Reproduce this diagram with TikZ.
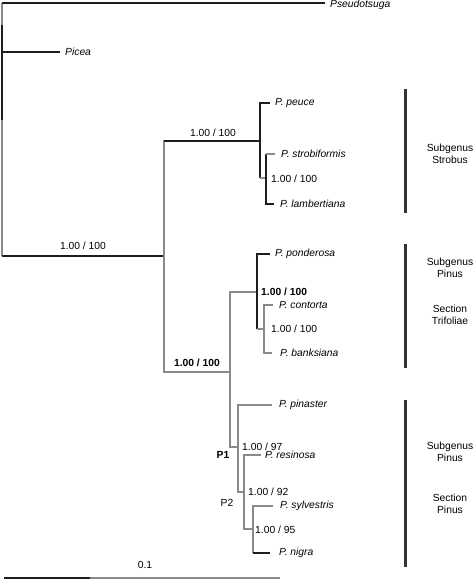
\documentclass[tikz,border=0pt]{standalone}
\usepackage{fontspec}
\setmainfont{Liberation Sans}
\usetikzlibrary{positioning}
\definecolor{treeDark}{HTML}{1E1E1E}
\definecolor{treeGray}{HTML}{8A8A8A}
\definecolor{barDark}{HTML}{333333}

\begin{document}
\begin{tikzpicture}[
  x=1pt, y=-1pt,
  every node/.style={font=\fontsize{10.3}{11.5}\selectfont, inner sep=0pt},
  taxon/.style={anchor=west, font=\fontsize{10.3}{11.5}\selectfont\itshape},
  support/.style={anchor=west},
  supportbold/.style={font=\fontsize{10.3}{11.5}\selectfont\bfseries},
  clade/.style={align=center},
  dark/.style={draw=treeDark, line width=1.2pt},
  pale/.style={draw=treeGray, line width=1.2pt},
  cladebar/.style={draw=barDark, line width=3pt}
]

\useasboundingbox (0,0) rectangle (474,581);

\coordinate (root)   at (2,256);
\coordinate (out)    at (2,3);
\coordinate (pine)   at (164,256);
\coordinate (strob)  at (260,141);
\coordinate (strobA) at (266,178);
\coordinate (pinus)  at (230,372);
\coordinate (trif)   at (257,292);
\coordinate (trifA)  at (264,329);
\coordinate (p1)     at (238,447);
\coordinate (p2)     at (244,492);
\coordinate (p3)     at (253,529);

\node[taxon] (pseudo)  at (330,5)   {Pseudotsuga};
\node[taxon] (picea)   at (65,52)   {Picea};
\node[taxon] (peuce)   at (275,103) {P. peuce};
\node[taxon] (strobi)  at (281,154) {P. strobiformis};
\node[taxon] (lamb)    at (280,204) {P. lambertiana};
\node[taxon] (ponder)  at (275,254) {P. ponderosa};
\node[taxon] (contor)  at (279,305) {P. contorta};
\node[taxon] (banks)   at (280,353) {P. banksiana};
\node[taxon] (pinast)  at (279,405) {P. pinaster};
\node[taxon] (resin)   at (265,455) {P. resinosa};
\node[taxon] (sylv)    at (280,506) {P. sylvestris};
\node[taxon] (nigra)   at (279,553) {P. nigra};

\draw[pale] (out) -- (root);
\draw[dark] (2,25) -- (2,120);
\draw[dark] (out) -- ([xshift=-5pt]pseudo.west |- out);
\draw[dark] (out |- picea) -- ([xshift=-5pt]picea.west);
\draw[dark] (root) -- (pine);

\draw[pale] (pine) |- (strob);
\draw[dark] (pine |- strob) -- (strob);
\draw[dark] (strob) |- ([xshift=-5pt]peuce.west);
\draw[dark] (strob) -- (strob |- strobA);
\draw[pale] (strob |- strobA) -- (strobA);
\draw[dark] (strobA) |- ([xshift=-6pt]lamb.west);
\draw[dark] (strobA) -- (strobA |- strobi);
\draw[pale] (strobA |- strobi) -- ([xshift=-6pt]strobi.west);

\draw[pale] (pine) |- (pinus);
\draw[pale] (pinus) |- (trif);
\draw[dark] (trif) |- ([xshift=-5pt]ponder.west);
\draw[dark] (trif) -- (trif |- trifA);
\draw[pale] (trif |- trifA) -- (trifA);
\draw[pale] (trifA) |- ([xshift=-6pt]contor.west);
\draw[pale] (trifA) |- ([xshift=-8pt]banks.west);

\draw[pale] (pinus) |- (p1);
\draw[pale] (p1) |- ([xshift=-7pt]pinast.west);
\draw[pale] (p1) |- (p2);
\draw[pale] (p2) |- ([xshift=-4pt]resin.west);
\draw[pale] (p2) |- (p3);
\draw[pale] (p3) |- ([xshift=-7pt]sylv.west);
\draw[pale] (p3) -- (p3 |- nigra);
\draw[dark] (p3 |- nigra) -- ([xshift=-9pt]nigra.west);

\node (rootlab)   at (83,246)          {1.00 / 100};
\node (stroblab)  at (213,133)         {1.00 / 100};
\node[support] (strobAlab) at (271,179) {1.00 / 100};
\node[supportbold] (pinuslab) at (197,363) {1.00 / 100};
\node[support, supportbold] (triflab) at (261,292) {1.00 / 100};
\node[support] (trifAlab) at (271,329) {1.00 / 100};
\node[support] (p1lab) at (242,447)    {1.00 / 97};
\node[support] (p2lab) at (248,492)    {1.00 / 92};
\node[support] (p3lab) at (255,530)    {1.00 / 95};
\node[supportbold] (P1) at (223,455)   {P1};
\node (P2) at (227,503)                {P2};

\draw[cladebar] (405,89) coordinate (strobtop) -- (405,213) coordinate (strobbot);
\draw[cladebar] (405,244) coordinate (triftop) -- (405,368) coordinate (trifbot);
\draw[cladebar] (405,400) coordinate (pintop) -- (405,567) coordinate (pinbot);

\node[clade] (subStrob) at (450,154) {Subgenus\\Strobus};
\node[clade] (subPinA)  at (450,268) {Subgenus\\Pinus};
\node[clade] (secTrif)  at (450,315) {Section\\Trifoliae};
\node[clade] (subPinB)  at (450,452) {Subgenus\\Pinus};
\node[clade] (secPin)   at (450,504) {Section\\Pinus};

\draw[dark] (4,578) coordinate (scaleA) -- (90,578) coordinate (scaleB);
\draw[pale] (scaleB) -- (280,578) coordinate (scaleC);
\node (scalelab) at (145,565) {0.1};

\end{tikzpicture}
\end{document}
